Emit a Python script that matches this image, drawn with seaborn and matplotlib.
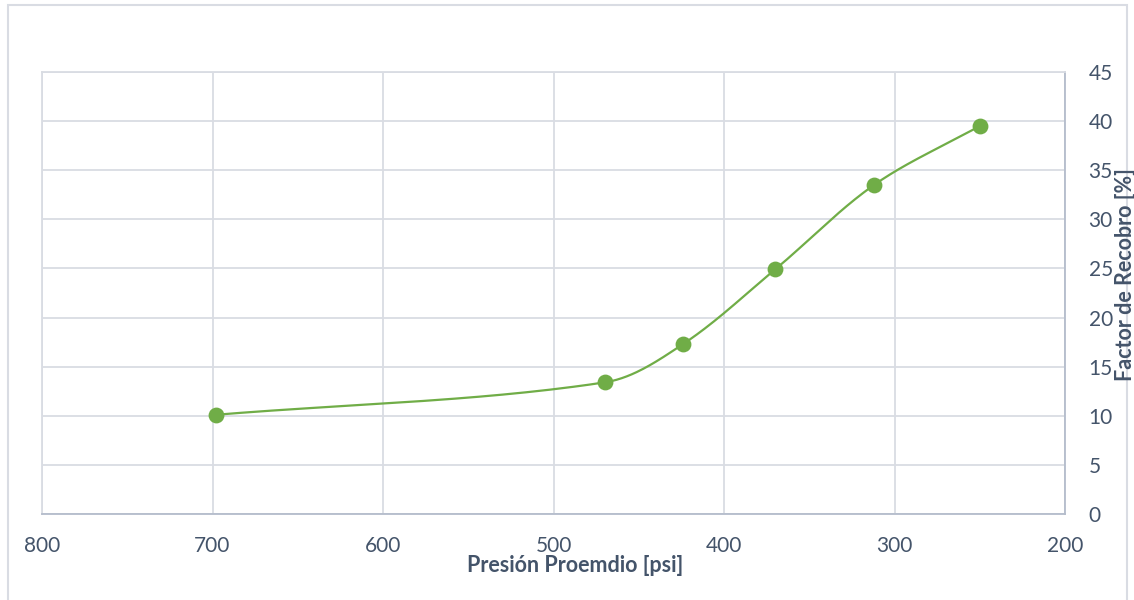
import numpy as np
import matplotlib
matplotlib.use("Agg")
import matplotlib.pyplot as plt
import seaborn as sns
from matplotlib.patches import Rectangle

presion = [698, 470, 424, 370, 312, 250]
factor = [10.1, 13.4, 17.3, 24.9, 33.5, 39.5]
x_ticks = [800, 700, 600, 500, 400, 300, 200]
y_ticks = [0, 5, 10, 15, 20, 25, 30, 35, 40, 45]

sns.set_theme(style="white")
plt.rcParams['font.family'] = ['Lato', 'DejaVu Sans']

GREEN = "#70AD47"
TEXT = "#44546A"
GRID = "#D9DCE3"

fig = plt.figure(figsize=(11.34, 6.0), dpi=100)
ax = fig.add_axes([42/1134, 1-514/600, (1065-42)/1134, (514-72)/600])

ax.set_xlim(800, 200)
ax.set_ylim(0, 45)

# Smooth curve (Bezier smoothing with length-weighted tangents, like Excel)
def smooth(xs, ys, n=50, k=0.5):
    xs = np.asarray(xs, float); ys = np.asarray(ys, float)
    sx, sy = 1023/600, 442/45
    P = np.column_stack([xs*sx, ys*sy])
    N = len(P)
    cps_out = [None]*N
    cps_in = [None]*N
    for i in range(N):
        p0 = P[i-1] if i > 0 else P[i]
        p2 = P[i+1] if i < N-1 else P[i]
        T = p2 - p0
        d0 = np.linalg.norm(P[i]-p0)
        d1 = np.linalg.norm(p2-P[i])
        tot = d0 + d1
        cps_out[i] = P[i] + T * k * (d1/tot) * (2/3) if tot else P[i]
        cps_in[i] = P[i] - T * k * (d0/tot) * (2/3) if tot else P[i]
    out = []
    t = np.linspace(0, 1, n)[:, None]
    for i in range(N-1):
        p1, p2 = P[i], P[i+1]
        c1, c2 = cps_out[i], cps_in[i+1]
        seg = (1-t)**3*p1 + 3*(1-t)**2*t*c1 + 3*(1-t)*t**2*c2 + t**3*p2
        out.append(seg if i == 0 else seg[1:])
    B = np.vstack(out)
    return B[:, 0]/sx, B[:, 1]/sy

cx, cy = smooth(presion, factor)
ax.plot(cx, cy, color=GREEN, lw=1.6, zorder=3)
sns.scatterplot(x=presion, y=factor, ax=ax, color=GREEN, s=130, edgecolor=GREEN, linewidth=0, zorder=4)

ax.set_xticks(x_ticks)
ax.set_yticks(y_ticks)
ax.grid(True, color=GRID, lw=1.3)
ax.set_axisbelow(True)
for s in ["top", "left"]:
    ax.spines[s].set_color(GRID)
    ax.spines[s].set_linewidth(1.3)
for s in ["bottom", "right"]:
    ax.spines[s].set_color("#B4BCCB")
    ax.spines[s].set_linewidth(1.3)

ax.yaxis.tick_right()
ax.tick_params(axis="both", labelsize=15, labelcolor=TEXT, length=0)
ax.tick_params(axis="x", pad=16)
ax.tick_params(axis="y", pad=17)
ax.set_xlabel("")
ax.set_ylabel("")

fig.text(575/1134, 1-565/600, "Presión Proemdio [psi]", ha="center", va="center",
         fontsize=15.5, fontweight="bold", color=TEXT)
fig.text(1125/1134, 1-275/600, "Factor de Recobro [%]", ha="center", va="center",
         rotation=90, fontsize=15.5, fontweight="bold", color=TEXT)

fig.patches.append(Rectangle((7.5/1134, -0.01), 1119/1134, 1.01-5/600, transform=fig.transFigure,
                             fill=False, edgecolor=GRID, lw=1.5))

fig.savefig("out.png", dpi=100)
